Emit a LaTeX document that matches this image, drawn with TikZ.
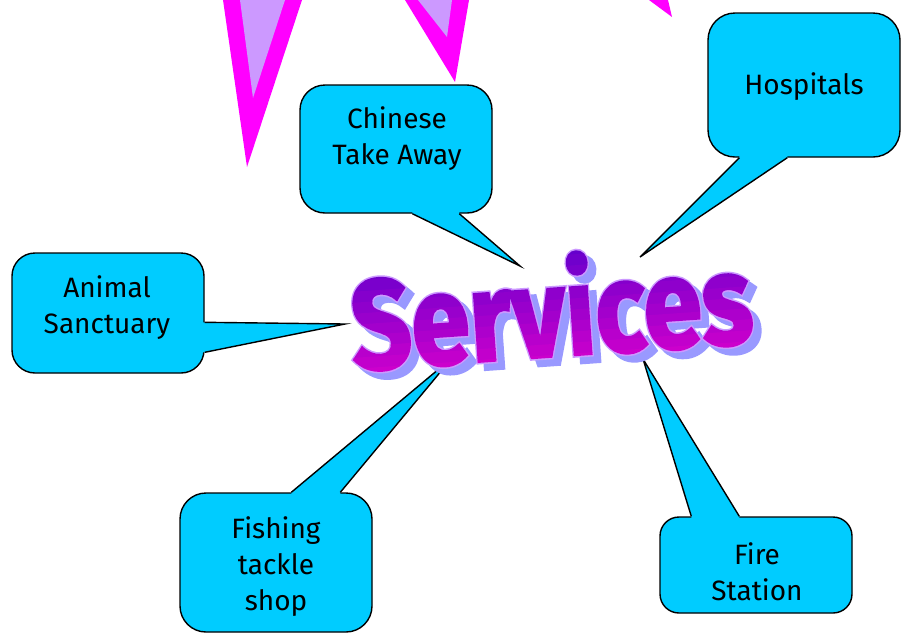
\documentclass[tikz,border=0pt]{standalone}
\usepackage{fontspec}
\setmainfont{Fira Sans}
\usepackage{graphicx}
\usetikzlibrary{calc}
\definecolor{calloutcyan}{HTML}{00CCFF}
\definecolor{spikemag}{HTML}{FF00FF}
\definecolor{spikelav}{HTML}{CC99FF}
\definecolor{svctop}{HTML}{6600CC}
\definecolor{svcbot}{HTML}{CC00CC}
\definecolor{svcshadow}{HTML}{9999FF}
\definecolor{svcoutline}{HTML}{CC99FF}
\newfontfamily\svcmainfont{Fira Sans}[FakeBold=2]
\newfontfamily\svcrimfont{Fira Sans}[FakeBold=4.5]
\newcommand\svcmainword{\resizebox{402pt}{103pt}{\fontsize{150}{150}\svcmainfont\bfseries Services}}
\newcommand\svcrimword{\resizebox{402pt}{103pt}{\fontsize{150}{150}\svcrimfont\bfseries Services}}
\begin{document}
\begin{tikzpicture}[x=1pt,y=-1pt,
  cbox/.style={draw=black, line width=1.4pt, fill=calloutcyan, rounded corners=#1, inner sep=0pt},
  lbl/.style={font=\fontsize{28}{36}\selectfont, align=center, inner sep=0pt, text=black},
  tailline/.style={draw=black, line width=1.4pt, line join=miter},
  svcnode/.style={inner sep=0pt, outer sep=0pt}]
\fill[white] (0,0) rectangle (901,633);
\useasboundingbox (0,0) rectangle (901,633);

% decorative spikes
\fill[spikemag] (223,0) -- (302,0) -- (247,167) -- cycle;
\fill[spikelav] (240,0) -- (285,0) -- (253,98) -- cycle;
\fill[spikemag] (405,0) -- (469,0) -- (455,82) -- cycle;
\fill[spikelav] (418,0) -- (452,0) -- (447,37) -- cycle;
\fill[spikemag] (649,0) -- (668,0) -- (672,17) -- cycle;

% callout boxes
\node[cbox=25, minimum width=192, minimum height=128] (chbox) at (396,149) {};
\node[cbox=27, minimum width=192, minimum height=144] (hobox) at (804,85) {};
\node[cbox=23, minimum width=192, minimum height=120] (anbox) at (108,313) {};
\node[cbox=26, minimum width=192, minimum height=139] (fibox) at (276,562.5) {};
\node[cbox=19, minimum width=192, minimum height=96] (frbox) at (756,565) {};

% tail tips (pointing at Services)
\coordinate (chTip) at (520,266);
\coordinate (hoTip) at (640,257);
\coordinate (anTip) at (345,324);
\coordinate (fiTip) at (452,358);
\coordinate (frTip) at (643,359);

% tail bases on the box edges
\path (chbox.south west) +(113,0) coordinate (chA) +(160,0) coordinate (chB);
\path (hobox.south west) +(32,0) coordinate (hoA) +(80,0) coordinate (hoB);
\path (anbox.north east) +(0,70) coordinate (anA) +(0,100) coordinate (anB);
\path (fibox.north west) +(112,0) coordinate (fiA) +(161,0) coordinate (fiB);
\path (frbox.north west) +(32,0) coordinate (frA) +(80,0) coordinate (frB);

\fill[calloutcyan] (chA) -- (chTip) -- (chB) -- ($(chB)+(0,-4)$) -- ($(chA)+(0,-4)$) -- cycle;
\draw[tailline] (chA) -- (chTip) -- (chB);
\fill[calloutcyan] (hoA) -- (hoTip) -- (hoB) -- ($(hoB)+(0,-4)$) -- ($(hoA)+(0,-4)$) -- cycle;
\draw[tailline] (hoA) -- (hoTip) -- (hoB);
\fill[calloutcyan] (anA) -- (anTip) -- (anB) -- ($(anB)+(-4,0)$) -- ($(anA)+(-4,0)$) -- cycle;
\draw[tailline] (anA) -- (anTip) -- (anB);
\fill[calloutcyan] (fiA) -- (fiTip) -- (fiB) -- ($(fiB)+(0,4)$) -- ($(fiA)+(0,4)$) -- cycle;
\draw[tailline] (fiA) -- (fiTip) -- (fiB);
\fill[calloutcyan] (frA) -- (frTip) -- (frB) -- ($(frB)+(0,4)$) -- ($(frA)+(0,4)$) -- cycle;
\draw[tailline] (frA) -- (frTip) -- (frB);

% labels
\node[lbl] (chtxt) at (397,138.5) {Chinese\\Take Away};
\node[lbl, anchor=base] (hotxt) at (804,94) {Hospitals};
\node[lbl] (antxt) at (107,308) {Animal\\Sanctuary};
\node[lbl] (fitxt) at (276,567) {Fishing\\tackle\\shop};
\node[lbl] (frtxt) at (757,571.5) {Fire\\Station};

% Services word art: shadow, rim, then a banded purple-to-magenta fill
\begin{scope}[shift={(551,306)}, rotate=4, transform shape]
  \node[svcnode, text=svcshadow] (svcshadow) at (7,7) {\svcrimword};
  \node[svcnode, text=svcoutline] (svcrim) at (0,0) {\svcrimword};
  \foreach \i in {0,...,10} {
    \pgfmathsetmacro\pc{100*\i/10}
    \begin{scope}
      \clip (-240,-61+\i*11) rectangle (240,-49+\i*11);
      \node[svcnode, text=svcbot!\pc!svctop] at (0,0) {\svcmainword};
    \end{scope}
  }
  \coordinate (svc) at (0,0);
\end{scope}
\end{tikzpicture}
\end{document}
